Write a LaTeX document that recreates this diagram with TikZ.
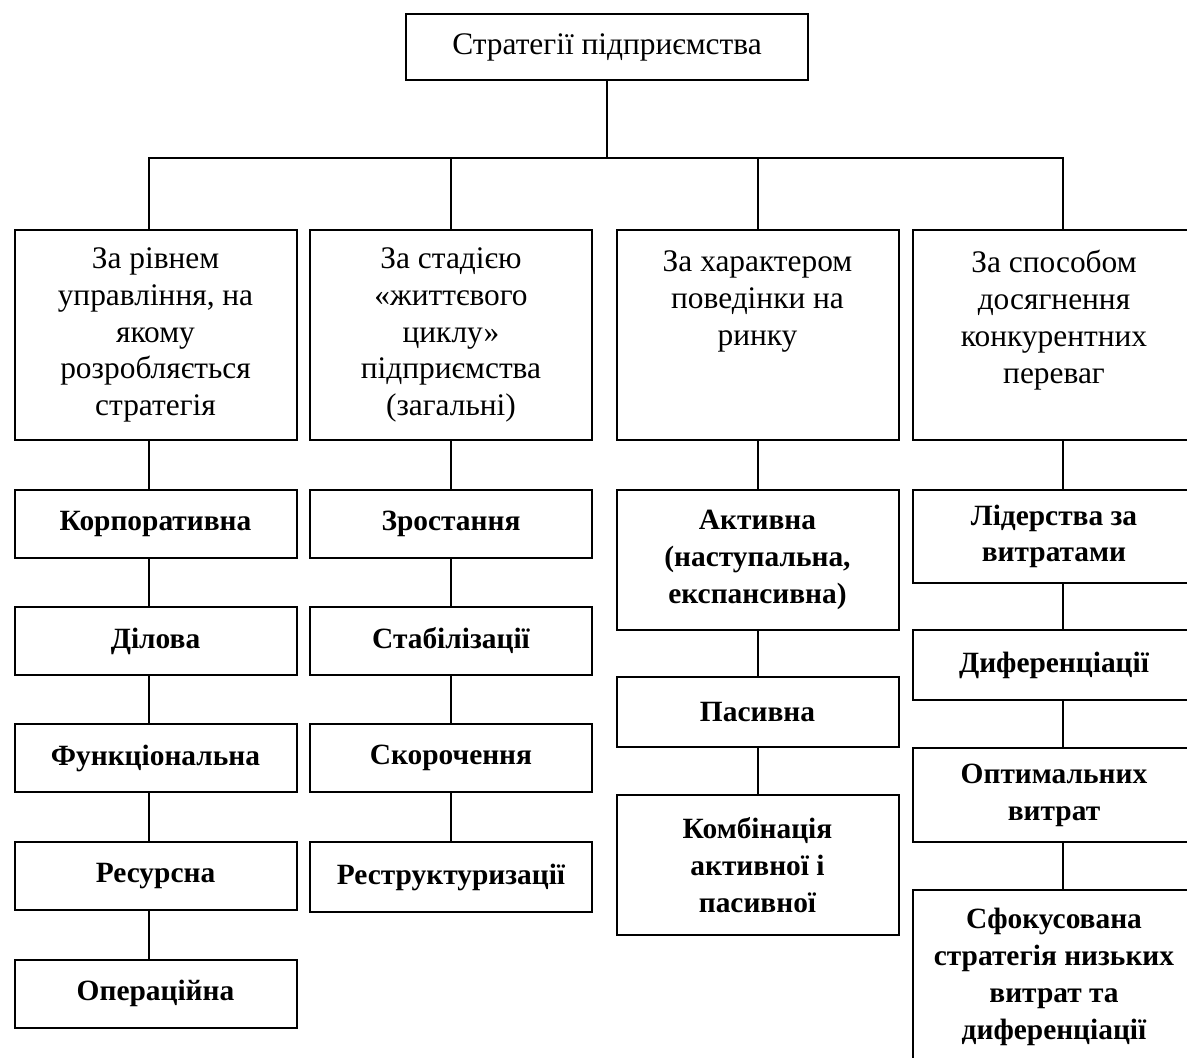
\documentclass[tikz,border=0pt]{standalone}
\usepackage{fontspec}
\setmainfont{Liberation Serif}
\begin{document}
\begin{tikzpicture}[x=0.5pt,y=-0.5pt,line width=1pt,line join=miter,
	every node/.style={font=\fontsize{15.7}{18.4}\selectfont},
	head/.style={draw,align=center,minimum width=201pt,minimum height=33pt},
	group/.style={draw,align=center,minimum width=141pt,minimum height=105pt,inner sep=2pt},
	item/.style={draw,align=center,minimum width=141pt,inner sep=2pt,font=\bfseries\fontsize{14.7}{18.4}\selectfont}]
	\useasboundingbox (0,0) rectangle (1187,1057);
	\node[head] (top) at (607,47) {Стратегії підприємства};
	% групи стратегій
	\node[group] (g1) at (155.5,335) {За рівнем\\управління, на\\якому\\розробляється\\стратегія};
	\node[group] (g2) at (451,335) {За стадією\\«життєвого\\циклу»\\підприємства\\(загальні)};
	\node[group] (g3) at (757.5,335) {За характером\\поведінки на\\ринку\\~\\~};
	\node[group] (g4) at (1054,335) {За способом\\досягнення\\конкурентних\\переваг\\~};
	% перший стовпець
	\node[item,minimum height=34pt] (a1) at (155.5,524) {Корпоративна};
	\node[item,minimum height=34pt] (a2) at (155.5,641) {Ділова};
	\node[item,minimum height=34pt] (a3) at (155.5,758) {Функціональна};
	\node[item,minimum height=34pt] (a4) at (155.5,876) {Ресурсна};
	\node[item,minimum height=34pt] (a5) at (155.5,993.5) {Операційна};
	% другий стовпець
	\node[item,minimum height=34pt] (b1) at (451,524) {Зростання};
	\node[item,minimum height=34pt] (b2) at (451,641) {Стабілізації};
	\node[item,minimum height=34pt] (b3) at (451,758) {Скорочення};
	\node[item,minimum height=35pt] (b4) at (451,877) {Реструктуризації};
	% третій стовпець
	\node[item,minimum height=70pt] (c1) at (757.5,560) {Активна\\(наступальна,\\експансивна)};
	\node[item,minimum height=35pt] (c2) at (757.5,712) {Пасивна};
	\node[item,minimum height=70pt] (c3) at (757.5,865) {Комбінація\\активної і\\пасивної};
	% четвертий стовпець
	\node[item,minimum height=46.5pt] (d1) at (1054,536.5) {Лідерства за\\витратами};
	\node[item,minimum height=35pt] (d2) at (1054,665) {Диференціації};
	\node[item,minimum height=47pt] (d3) at (1054,795) {Оптимальних\\витрат};
	\node[item,minimum height=87pt] (d4) at (1054,977) {Сфокусована\\стратегія низьких\\витрат та\\диференціації};
	% зв'язки
	\coordinate (bus) at (607,158);
	\draw (top.south) -- (bus);
	\foreach \g/\s in {g1/-3.5pt,g2/0pt,g3/0pt,g4/4.5pt}
		\draw ([xshift=\s]\g.north) |- (bus);
	\foreach \u/\v/\s in {g1/a1/-3.5pt,a1/a2/-3.5pt,a2/a3/-3.5pt,a3/a4/-3.5pt,a4/a5/-3.5pt,
		g2/b1/0pt,b1/b2/0pt,b2/b3/0pt,b3/b4/0pt,g3/c1/0pt,c1/c2/0pt,c2/c3/0pt,
		g4/d1/4.5pt,d1/d2/4.5pt,d2/d3/4.5pt,d3/d4/4.5pt}
		\draw ([xshift=\s]\u.south) -- ([xshift=\s]\v.north);
\end{tikzpicture}
\end{document}
